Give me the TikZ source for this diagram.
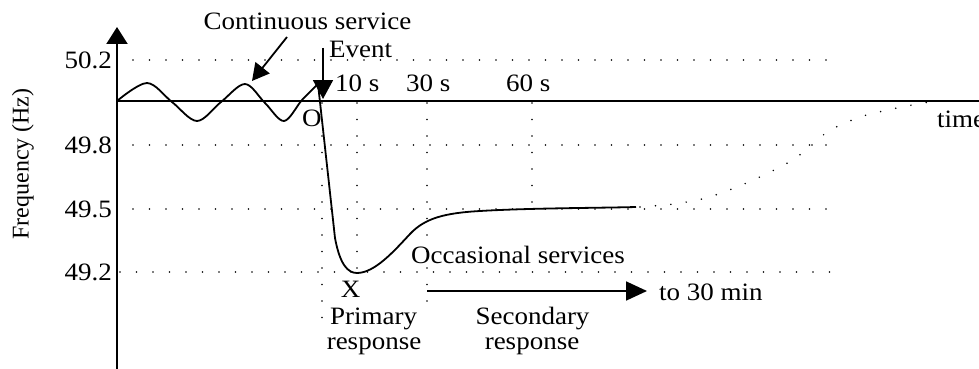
\documentclass[tikz,border=0pt]{standalone}
\usepackage{fontspec}
\setmainfont{Liberation Serif}[FakeStretch=1.08]
\newfontfamily\axislabelfont{Liberation Serif}
\usetikzlibrary{arrows.meta}
\begin{document}
\begin{tikzpicture}[x=1pt,y=-1pt,
  lbl/.style={inner sep=0pt, font=\fontsize{25}{28}\selectfont},
  axisline/.style={line width=2pt},
  curveline/.style={line width=1.8pt, line join=round},
  griddots/.style={line width=1.7pt, line cap=round, dash pattern=on 0pt off 16.5pt},
  trendots/.style={line width=1.7pt, line cap=round, dash pattern=on 0pt off 15.5pt},
  thinarrow/.style={line width=1.8pt}
]
\useasboundingbox[fill=white] (0,0) rectangle (979,369);

% axes
\coordinate (ybot) at (117,369);
\coordinate (ytop) at (117,27);
\coordinate (orig) at (117,101);
\coordinate (tend) at (979,101);
\draw[axisline, -{Triangle[length=17pt, width=21pt]}] (ybot) -- (ytop);
\draw[axisline] (orig) -- (tend);

% horizontal reference levels
\foreach \nm/\yy/\xs in {a/60/133, b/145/133, c/209/133, d/272/120}{
  \coordinate (h\nm s) at (\xs,\yy);
  \coordinate (h\nm e) at (830,\yy);
  \draw[griddots] (h\nm s) -- (h\nm e);
}

% vertical time markers
\foreach \nm/\xx/\ye in {o/322/318, p/357/272, q/427/317, r/532/209}{
  \coordinate (v\nm s) at (\xx,103);
  \coordinate (v\nm e) at (\xx,\ye);
  \draw[griddots] (v\nm s) -- (v\nm e);
}

% tick labels
\node[lbl, anchor=base east] (t502) at (112,69) {50.2};
\node[lbl, anchor=base east] (t498) at (112,153) {49.8};
\node[lbl, anchor=base east] (t495) at (112,217) {49.5};
\node[lbl, anchor=base east] (t492) at (112,280) {49.2};
\node[rotate=90, inner sep=0pt, font=\axislabelfont\fontsize{24}{28}\selectfont] (ylab) at (23,164) {Frequency (Hz)};
\node[lbl, anchor=base west] (tlab) at (937,127) {time};

% frequency trace: oscillation, drop after the event, recovery
\draw[curveline] plot[smooth, tension=0.55] coordinates {(117,101) (147,83) (172,102) (197,121) (221,102) (245,84) (265,103) (284,121) (302,100) (318,84)}
  -- (335,238) .. controls (340,265) and (348,273) .. (357,273)
  .. controls (375,273) and (395,250) .. (410,234)
  .. controls (425,218) and (445,213) .. (480,211)
  .. controls (530,208) and (600,208) .. (636,207);
\draw[trendots] plot[smooth, tension=0.5] coordinates {(640,207) (674,204) (706,198) (737,187) (766,174) (794,159) (818,140) (830,130) (860,117) (892,109) (923,103) (940,101)};

% labels and pointers
\node[lbl, anchor=base] (cont) at (307.5,30) {Continuous service};
\coordinate (cs) at (287,37);
\coordinate (ce) at (252,81);
\draw[thinarrow, -{Triangle[length=17pt, width=18pt]}] (cs) -- (ce);

\node[lbl, anchor=base west] (evt) at (329,58) {Event};
\coordinate (es) at (323,48);
\coordinate (ee) at (323,99);
\draw[thinarrow, -{Triangle[length=19pt, width=20pt]}] (es) -- (ee);

\node[lbl, anchor=base west] (s10) at (335,92) {10 s};
\node[lbl, anchor=base west] (s30) at (406,92) {30 s};
\node[lbl, anchor=base west] (s60) at (506,92) {60 s};
\node[lbl, anchor=base west] (ptO) at (302,126) {O};
\node[lbl, anchor=base] (ptX) at (350.5,297) {X};
\node[lbl, anchor=base west] (occ) at (411,263) {Occasional services};

\node[lbl, anchor=base west] (to30) at (659,300) {to 30 min};
\coordinate (as) at (427,291);
\coordinate (ae) at (647,291);
\draw[thinarrow, -{Triangle[length=21pt, width=19pt]}] (as) -- (ae);

\node[lbl, anchor=base] (prim1) at (373.5,324) {Primary};
\node[lbl, anchor=base] (prim2) at (374,349) {response};
\node[lbl, anchor=base] (sec1) at (532.5,324) {Secondary};
\node[lbl, anchor=base] (sec2) at (532,349) {response};
\end{tikzpicture}
\end{document}
